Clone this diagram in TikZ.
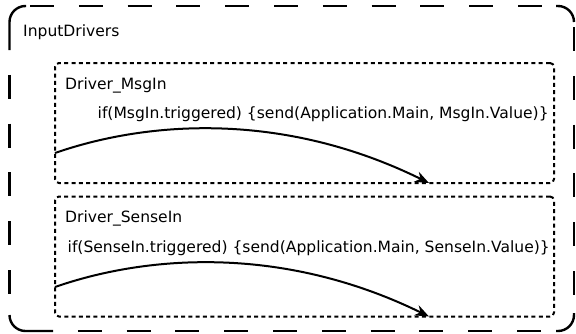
\documentclass[tikz,border=0pt]{standalone}
\usepackage{fontspec}
\setmainfont{DejaVu Sans}
\usetikzlibrary{arrows.meta}

\tikzset{
  frameline/.style={line width=2.4pt, line cap=butt},
  frameside/.style={frameline, dash pattern=on 24pt off 24.8pt},
  driverbox/.style={draw, rectangle, rounded corners=4pt, line width=2pt,
    dash pattern=on 4pt off 3.3pt, inner sep=0pt,
    minimum width=499pt, minimum height=120pt},
  label/.style={anchor=base west, inner sep=0pt,
    font=\fontsize{15.55}{18}\selectfont},
  flow/.style={line width=2pt, -{Stealth[length=14pt, width=11pt]}}
}

\begin{document}
\begin{tikzpicture}[x=1pt, y=-1pt]
  \useasboundingbox (0,0) rectangle (576,333);

  % outer group frame: solid rounded corners, dashed sides
  \draw[frameline, rounded corners=16pt] (9.5,50) -- (9.5,6) -- (26,6);
  \draw[frameline, rounded corners=16pt] (556,6) -- (574,6) -- (574,22);
  \draw[frameline, rounded corners=16pt] (574,313) -- (574,331) -- (556,331);
  \draw[frameline, rounded corners=16pt] (53,331) -- (9.5,331) -- (9.5,315);
  \draw[frameside, dash phase=44.8pt] (26,6) -- (556,6);
  \draw[frameside, dash phase=24pt] (9.5,50) -- (9.5,315);
  \draw[frameside, dash phase=43.8pt] (574,22) -- (574,313);
  \draw[frameside, dash phase=24pt] (53,331) -- (556,331);
  \node[label] (group) at (23,36) {InputDrivers};

  % driver blocks
  \node[driverbox] (msgin) at (304.5,123) {};
  \node[driverbox] (sensein) at (304.5,256.5) {};

  \node[label] (msginname) at (65,89) {Driver\_MsgIn};
  \node[label] (msgincode) at (97.5,118)
    {if(MsgIn.triggered) \{send(Application.Main, MsgIn.Value)\}};

  \node[label] (senseinname) at (65,222) {Driver\_SenseIn};
  \node[label] (senseincode) at (67.5,252)
    {if(SenseIn.triggered) \{send(Application.Main, SenseIn.Value)\}};

  % trigger flows inside each block
  \coordinate (msginfrom) at (55,153);
  \coordinate (msginto) at (429,183);
  \coordinate (senseinfrom) at (55,287);
  \coordinate (senseinto) at (429,316.5);

  \draw[flow] (msginfrom) .. controls (150,120) and (285,112) .. (msginto);
  \draw[flow] (senseinfrom) .. controls (150,254) and (285,246) .. (senseinto);
\end{tikzpicture}
\end{document}
